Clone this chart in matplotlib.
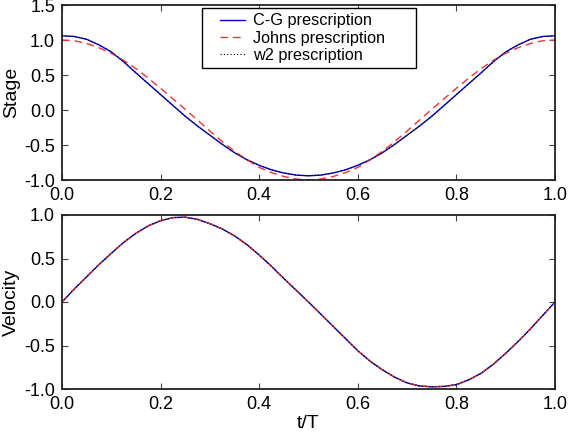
import matplotlib
matplotlib.use("Agg")
import matplotlib.pyplot as plt
from matplotlib.lines import Line2D
from matplotlib.legend_handler import HandlerLine2D

plt.rcParams['font.family'] = ['Liberation Sans', 'DejaVu Sans']

# ---- data ----
t = [0.000, 0.025, 0.050, 0.075, 0.100, 0.125, 0.150, 0.175, 0.200, 0.225,
     0.250, 0.275, 0.300, 0.325, 0.350, 0.375, 0.400, 0.425, 0.450, 0.475,
     0.500, 0.525, 0.550, 0.575, 0.600, 0.625, 0.650, 0.675, 0.700, 0.725,
     0.750, 0.775, 0.800, 0.825, 0.850, 0.875, 0.900, 0.925, 0.950, 0.975,
     1.000]

stage_cg = [1.06, 1.05, 1.01, 0.93, 0.83, 0.69, 0.53, 0.375, 0.22, 0.065,
            -0.09, -0.23, -0.36, -0.49, -0.61, -0.71, -0.79, -0.855, -0.90, -0.93,
            -0.94, -0.93, -0.90, -0.855, -0.79, -0.71, -0.61, -0.49, -0.36, -0.23,
            -0.09, 0.065, 0.22, 0.375, 0.53, 0.69, 0.83, 0.93, 1.01, 1.05,
            1.06]
stage_johns = [1.00, 0.99, 0.95, 0.89, 0.81, 0.71, 0.59, 0.455, 0.31, 0.16,
               0.01, -0.145, -0.30, -0.45, -0.59, -0.71, -0.82, -0.895, -0.95, -0.985,
               -1.00, -0.985, -0.95, -0.895, -0.82, -0.71, -0.59, -0.45, -0.30, -0.145,
               0.01, 0.16, 0.31, 0.455, 0.59, 0.71, 0.81, 0.89, 0.95, 0.99,
               1.00]
stage_w2 = [1.06, 1.05, 1.01, 0.93, 0.83, 0.69, 0.53, 0.375, 0.22, 0.065,
            -0.09, -0.23, -0.36, -0.49, -0.61, -0.71, -0.79, -0.855, -0.90, -0.93,
            -0.94, -0.93, -0.90, -0.855, -0.79, -0.71, -0.61, -0.49, -0.36, -0.23,
            -0.09, 0.065, 0.22, 0.375, 0.53, 0.69, 0.83, 0.93, 1.01, 1.05,
            1.06]

vel_cg = [0.00, 0.15, 0.29, 0.43, 0.56, 0.685, 0.79, 0.875, 0.935, 0.97,
          0.975, 0.95, 0.90, 0.84, 0.76, 0.66, 0.54, 0.41, 0.27, 0.135,
          0.00, -0.14, -0.28, -0.42, -0.56, -0.68, -0.78, -0.865, -0.93, -0.965,
          -0.975, -0.97, -0.95, -0.895, -0.82, -0.715, -0.59, -0.455, -0.31, -0.155,
          0.00]
vel_johns = [0.00, 0.15, 0.29, 0.43, 0.56, 0.685, 0.79, 0.875, 0.935, 0.97,
             0.975, 0.95, 0.90, 0.84, 0.76, 0.66, 0.54, 0.41, 0.27, 0.135,
             0.00, -0.14, -0.28, -0.42, -0.56, -0.68, -0.78, -0.865, -0.93, -0.965,
             -0.975, -0.97, -0.95, -0.895, -0.82, -0.715, -0.59, -0.455, -0.31, -0.155,
             0.00]
vel_w2 = [0.00, 0.15, 0.29, 0.43, 0.56, 0.685, 0.79, 0.875, 0.935, 0.97,
          0.975, 0.95, 0.90, 0.84, 0.76, 0.66, 0.54, 0.41, 0.27, 0.135,
          0.00, -0.14, -0.28, -0.42, -0.56, -0.68, -0.78, -0.865, -0.93, -0.965,
          -0.975, -0.97, -0.95, -0.895, -0.82, -0.715, -0.59, -0.455, -0.31, -0.155,
          0.00]

labels = ["C-G prescription", "Johns prescription", "w2 prescription"]
xticks = [0.0, 0.2, 0.4, 0.6, 0.8, 1.0]
stage_yticks = [-1.0, -0.5, 0.0, 0.5, 1.0, 1.5]
vel_yticks = [-1.0, -0.5, 0.0, 0.5, 1.0]

fig = plt.figure(figsize=(5.68, 4.32), dpi=100)
ax1 = fig.add_axes([62/568, 1-180/432, 493/568, 175/432])
ax2 = fig.add_axes([62/568, 1-389/432, 493/568, 174/432])

blue = '#0000dd'
red = '#ee3535'

def style(ax):
    ax.tick_params(direction='in', top=True, right=True, length=4, width=0.8,
                   labelsize=13, pad=5, color='#444444')
    for s in ax.spines.values():
        s.set_linewidth(1.3)
        s.set_color('#222222')
    ax.set_xlim(0, 1)
    ax.set_xticks(xticks)
    ax.set_xticklabels([f"{v:.1f}" for v in xticks])

l1, = ax1.plot(t, stage_cg, color=blue, lw=1.0)
l2, = ax1.plot(t, stage_johns, color=red, lw=1.0, dashes=(5.5, 3.5))
l3, = ax1.plot(t, stage_w2, color='black', lw=0.8, dashes=(1, 2))
ax1.set_ylim(-1.0, 1.5)
ax1.set_yticks(stage_yticks)
ax1.set_yticklabels([f"{v:.1f}" for v in stage_yticks])
ax1.set_ylabel("Stage", fontsize=14)
ax1.yaxis.set_label_coords(-0.085, 0.5)
style(ax1)
leg = ax1.legend([l1, l2, l3], labels, loc='upper left', mode='expand',
                 bbox_to_anchor=(0.284, 0.0, 0.434, 0.981),
                 fontsize=11.7, fancybox=False, frameon=True, edgecolor='black',
                 framealpha=1, borderaxespad=0.0, handlelength=2.35,
                 handletextpad=0.5, labelspacing=0.15, borderpad=0.3,
                 handler_map={Line2D: HandlerLine2D(xpad=0.8)})
leg.get_frame().set_linewidth(1.0)

ax2.plot(t, vel_cg, color=blue, lw=1.0)
ax2.plot(t, vel_johns, color=red, lw=1.0, dashes=(5.5, 3.5))
ax2.plot(t, vel_w2, color='black', lw=0.8, dashes=(1, 2))
ax2.set_ylim(-1.0, 1.0)
ax2.set_yticks(vel_yticks)
ax2.set_yticklabels([f"{v:.1f}" for v in vel_yticks])
ax2.set_ylabel("Velocity", fontsize=14)
ax2.yaxis.set_label_coords(-0.085, 0.5)
ax2.set_xlabel("t/T", fontsize=14)
ax2.xaxis.set_label_coords(0.5, -0.150)
style(ax2)

fig.savefig("out.png", dpi=100)
